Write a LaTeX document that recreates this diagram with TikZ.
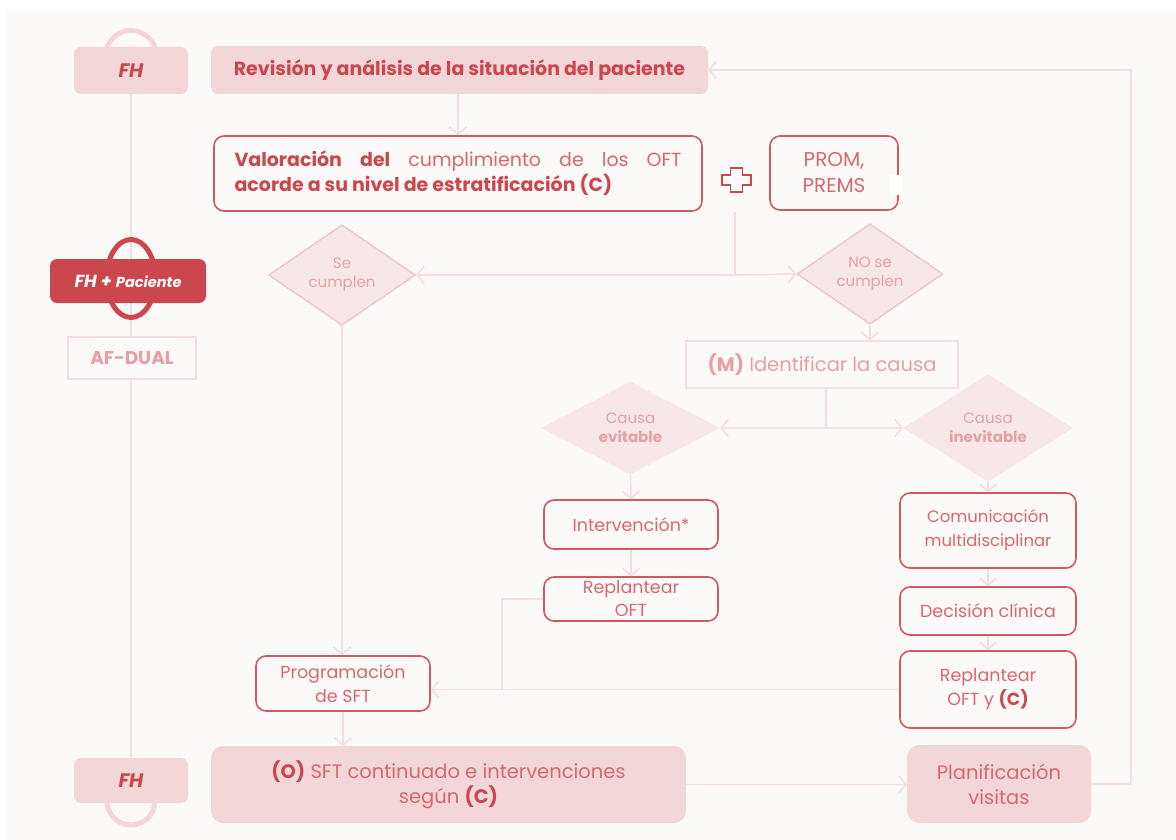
\documentclass[tikz,border=0pt]{standalone}
\usepackage{fontspec}
\setmainfont{Poppins}
\usetikzlibrary{shapes.geometric,arrows.meta}
\pgfdeclarelayer{back}
\pgfsetlayers{back,main}
\definecolor{deepred}{HTML}{CB474D}
\definecolor{softred}{HTML}{D8676C}
\definecolor{blush}{HTML}{F3D7D8}
\definecolor{paleblush}{HTML}{F8E7E8}
\definecolor{edgeblush}{HTML}{EFC6C8}
\definecolor{fadedred}{HTML}{E6A0A4}
\definecolor{wire}{HTML}{F6DDE0}
\definecolor{paper}{HTML}{FCFAF9}
\tikzset{
    panel/.style={rectangle,rounded corners=7pt,fill=blush,text=deepred,inner sep=0,align=center},
    framed/.style={rectangle,rounded corners=10pt,draw=deepred!90,line width=1.6pt,fill=paper,text=softred,inner sep=0,align=center,font=\fontsize{17.5}{24}\selectfont},
    faint/.style={rectangle,draw=wire,line width=1.6pt,fill=paper,text=fadedred,inner sep=0,align=center},
    choice/.style={diamond,fill=paleblush,text=fadedred,inner sep=0,align=center,font=\fontsize{15}{19}\selectfont},
    conn/.style={draw=wire,line width=1.6pt},
    flow/.style={conn,-{Straight Barb[length=7pt,width=17pt,line width=1.6pt]}}
}

\begin{document}
\begin{tikzpicture}[x=1pt,y=-1pt]
    \begin{pgfonlayer}{back}
        \fill[white] (0,0) rectangle (1176,840);
        \fill[paper] (7,9) rectangle (1176,840);
    \end{pgfonlayer}
    \useasboundingbox (0,0) rectangle (1176,840);

    \node[panel,minimum width=114pt,minimum height=47pt] (fhtop) at (131,70.5) {\fontsize{19.5}{22}\selectfont\bfseries\itshape FH};
    \node[panel,minimum width=156pt,minimum height=44pt,fill=deepred,text=white] (fhpac) at (128,281) {\bfseries\itshape\fontsize{17.5}{20}\selectfont FH + \fontsize{14.5}{20}\selectfont Paciente};
    \node[faint,minimum width=128pt,minimum height=42pt] (afdual) at (132,358) {\fontsize{18.5}{22}\selectfont\bfseries AF-DUAL};
    \node[panel,minimum width=114pt,minimum height=45pt] (fhbot) at (131,780.5) {\fontsize{19.5}{22}\selectfont\bfseries\itshape FH};

    \node[panel,minimum width=497pt,minimum height=48pt] (revision) at (459.5,70) {\fontsize{19}{22}\selectfont\bfseries Revisión y análisis de la situación del paciente};
    \node[framed,minimum width=488pt,minimum height=75pt,align=left,font=\fontsize{19}{25}\selectfont] (valoracion) at (458,173.5)
        {\hbox to 447pt{\textcolor{deepred}{\bfseries Valoración}\hfill\textcolor{deepred}{\bfseries del}\hfill cumplimiento\hfill de\hfill los\hfill OFT}\\
         \textcolor{deepred}{\bfseries acorde a su nivel de estratificación (C)}};
    \node[framed,minimum width=128pt,minimum height=74pt,font=\fontsize{20}{26}\selectfont] (prom) at (834,173) {PROM,\\PREMS};
    \fill[white] (890,175) rectangle (902,195);
    \draw[deepred,line width=1.4pt,shift={(736.5,180)}] (-6,-12) -- (6,-12) -- (6,-5) -- (14.5,-5) -- (14.5,5) -- (6,5) -- (6,12) -- (-6,12) -- (-6,5) -- (-14.5,5) -- (-14.5,-5) -- (-6,-5) -- cycle;

    \node[choice,draw=edgeblush,line width=1.4pt,minimum width=147pt,minimum height=93pt] (secumplen) at (342,275) {Se\\cumplen};
    \node[choice,draw=edgeblush,line width=1.4pt,minimum width=146pt,minimum height=84pt] (nosecumplen) at (870,274) {NO se\\cumplen};
    \node[faint,minimum width=272pt,minimum height=47pt,font=\fontsize{19.5}{22}\selectfont] (identificar) at (822,364.5) {\textbf{(M)} Identificar la causa};
    \node[choice,minimum width=179pt,minimum height=86pt] (evitable) at (630.5,428) {Causa\\\textbf{evitable}};
    \node[choice,minimum width=170pt,minimum height=86pt] (inevitable) at (988,428) {Causa\\\textbf{inevitable}};

    \node[framed,minimum width=174pt,minimum height=49pt] (intervencion) at (631,524.5) {Intervención*};
    \node[framed,minimum width=174pt,minimum height=44pt,font=\fontsize{17.5}{23}\selectfont] (replantear) at (631,599) {Replantear\\OFT};
    \node[framed,minimum width=176pt,minimum height=75pt,font=\fontsize{16.5}{24}\selectfont] (comunicacion) at (988,530.5) {Comunicación\\multidisciplinar};
    \node[framed,minimum width=176pt,minimum height=48pt] (decision) at (988,611) {Decisión clínica};
    \node[framed,minimum width=176pt,minimum height=77pt] (replanteary) at (988,689.5) {Replantear\\OFT y \textcolor{deepred}{\bfseries (C)}};
    \node[framed,minimum width=174pt,minimum height=55pt] (programacion) at (343,683.5) {Programación\\de SFT};

    \node[panel,minimum width=475pt,minimum height=77pt,rounded corners=12pt,text=softred,font=\fontsize{19.5}{25}\selectfont] (sft) at (448.5,784.5) {\textcolor{deepred}{\bfseries (O)} SFT continuado e intervenciones\\según \textcolor{deepred}{\bfseries (C)}};
    \node[panel,minimum width=184pt,minimum height=78pt,rounded corners=12pt,text=softred,font=\fontsize{19.5}{25}\selectfont] (planificacion) at (999,784) {Planificación\\visitas};

    \coordinate (plusfoot) at (735,212);
    \coordinate (split) at (735,275);
    \coordinate (fork) at (826,428);
    \coordinate (merge) at (502,689);
    \coordinate (loop) at (1131,784);

    \begin{pgfonlayer}{back}
        \draw[conn] (fhtop.south) -- (fhbot.north);
        \draw[blush,line width=5pt] (131,56) circle[radius=25.5];
        \draw[blush,line width=5pt] (131,801) circle[radius=24];
        \draw[deepred,line width=5pt] (131,278.5) ellipse[x radius=24.5,y radius=39];
    \end{pgfonlayer}

    \draw[flow] (valoracion.north |- revision.south) -- (valoracion.north);
    \draw[conn] (plusfoot) -- (split);
    \draw[flow] (split) -- (secumplen.east);
    \draw[flow] (split) -- (nosecumplen.west);
    \draw[flow] (nosecumplen.south) -- (nosecumplen.south |- identificar.north);
    \draw[conn] (identificar.south -| fork) -- (fork);
    \draw[flow] (fork) -- (evitable.east);
    \draw[flow] (fork) -- (inevitable.west);
    \draw[flow] (evitable.south) -- (intervencion.north);
    \draw[flow] (intervencion) -- (replantear);
    \draw[flow] (inevitable.south) -- (comunicacion.north);
    \draw[flow] (comunicacion) -- (decision);
    \draw[flow] (decision) -- (replanteary);
    \draw[conn] (replantear.west) -| (merge);
    \draw[flow] (replanteary.west) -- (replanteary.west -| programacion.east);
    \draw[flow] (secumplen.south) -- (secumplen.south |- programacion.north);
    \draw[flow] (programacion.south) -- (programacion.south |- sft.north);
    \draw[flow] (sft.east) -- (sft.east -| planificacion.west);
    \draw[flow] (planificacion.east) -- (loop) |- (revision.east);
\end{tikzpicture}
\end{document}
